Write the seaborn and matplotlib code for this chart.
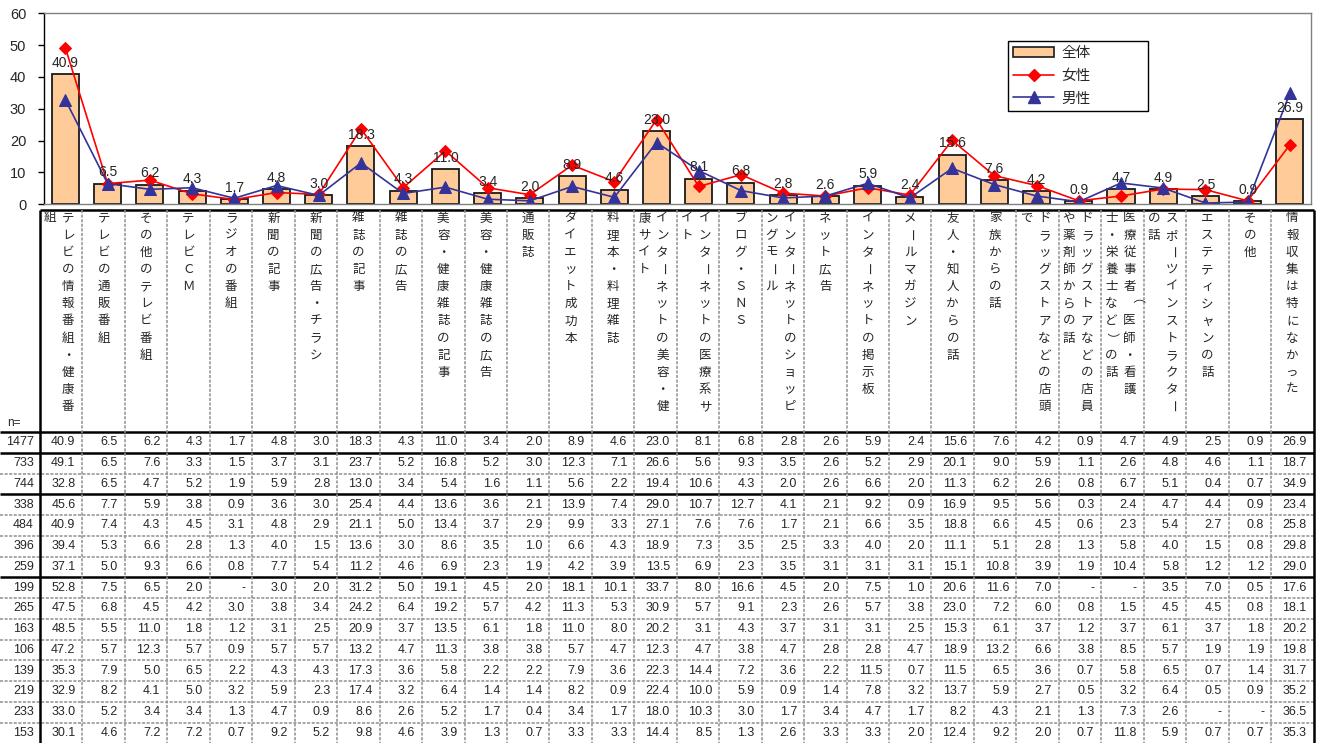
import numpy as np
import matplotlib
matplotlib.use("Agg")
import matplotlib.pyplot as plt
from matplotlib.patches import Patch
from matplotlib.lines import Line2D
import seaborn as sns

# categories (explicit line breaks = column wraps of the vertical label)
labels = [
    "テレビの情報番組・健康番\n組", "テレビの通販番組", "その他のテレビ番組", "テレビＣＭ",
    "ラジオの番組", "新聞の記事", "新聞の広告・チラシ", "雑誌の記事", "雑誌の広告",
    "美容・健康雑誌の記事", "美容・健康雑誌の広告", "通販誌", "ダイエット成功本",
    "料理本・料理雑誌", "インターネットの美容・健\n康サイト", "インターネットの医療系サ\nイト",
    "ブログ・ＳＮＳ", "インターネットのショッピ\nングモール", "ネット広告",
    "インターネットの掲示板", "メールマガジン", "友人・知人からの話", "家族からの話",
    "ドラッグストアなどの店頭\nで", "ドラッグストアなどの店員\nや薬剤師からの話",
    "医療従事者（医師・看護\n士・栄養士など）の話", "スポーツインストラクター\nの話",
    "エステティシャンの話", "その他", "情報収集は特になかった",
]

n_values = [1477, 733, 744, 338, 484, 396, 259, 199, 265, 163, 106, 139, 219, 233, 153]

total = [40.9, 6.5, 6.2, 4.3, 1.7, 4.8, 3.0, 18.3, 4.3, 11.0, 3.4, 2.0, 8.9, 4.6, 23.0,
         8.1, 6.8, 2.8, 2.6, 5.9, 2.4, 15.6, 7.6, 4.2, 0.9, 4.7, 4.9, 2.5, 0.9, 26.9]
female = [49.1, 6.5, 7.6, 3.3, 1.5, 3.7, 3.1, 23.7, 5.2, 16.8, 5.2, 3.0, 12.3, 7.1, 26.6,
          5.6, 9.3, 3.5, 2.6, 5.2, 2.9, 20.1, 9.0, 5.9, 1.1, 2.6, 4.8, 4.6, 1.1, 18.7]
male = [32.8, 6.5, 4.7, 5.2, 1.9, 5.9, 2.8, 13.0, 3.4, 5.4, 1.6, 1.1, 5.6, 2.2, 19.4,
        10.6, 4.3, 2.0, 2.6, 6.6, 2.0, 11.3, 6.2, 2.6, 0.8, 6.7, 5.1, 0.4, 0.7, 34.9]

# remaining table rows (groups, n = 338 ... 153)
g338 = [45.6, 7.7, 5.9, 3.8, 0.9, 3.6, 3.0, 25.4, 4.4, 13.6, 3.6, 2.1, 13.9, 7.4, 29.0,
        10.7, 12.7, 4.1, 2.1, 9.2, 0.9, 16.9, 9.5, 5.6, 0.3, 2.4, 4.7, 4.4, 0.9, 23.4]
g484 = [40.9, 7.4, 4.3, 4.5, 3.1, 4.8, 2.9, 21.1, 5.0, 13.4, 3.7, 2.9, 9.9, 3.3, 27.1,
        7.6, 7.6, 1.7, 2.1, 6.6, 3.5, 18.8, 6.6, 4.5, 0.6, 2.3, 5.4, 2.7, 0.8, 25.8]
g396 = [39.4, 5.3, 6.6, 2.8, 1.3, 4.0, 1.5, 13.6, 3.0, 8.6, 3.5, 1.0, 6.6, 4.3, 18.9,
        7.3, 3.5, 2.5, 3.3, 4.0, 2.0, 11.1, 5.1, 2.8, 1.3, 5.8, 4.0, 1.5, 0.8, 29.8]
g259 = [37.1, 5.0, 9.3, 6.6, 0.8, 7.7, 5.4, 11.2, 4.6, 6.9, 2.3, 1.9, 4.2, 3.9, 13.5,
        6.9, 2.3, 3.5, 3.1, 3.1, 3.1, 15.1, 10.8, 3.9, 1.9, 10.4, 5.8, 1.2, 1.2, 29.0]
g199 = [52.8, 7.5, 6.5, 2.0, None, 3.0, 2.0, 31.2, 5.0, 19.1, 4.5, 2.0, 18.1, 10.1, 33.7,
        8.0, 16.6, 4.5, 2.0, 7.5, 1.0, 20.6, 11.6, 7.0, None, None, 3.5, 7.0, 0.5, 17.6]
g265 = [47.5, 6.8, 4.5, 4.2, 3.0, 3.8, 3.4, 24.2, 6.4, 19.2, 5.7, 4.2, 11.3, 5.3, 30.9,
        5.7, 9.1, 2.3, 2.6, 5.7, 3.8, 23.0, 7.2, 6.0, 0.8, 1.5, 4.5, 4.5, 0.8, 18.1]
g163 = [48.5, 5.5, 11.0, 1.8, 1.2, 3.1, 2.5, 20.9, 3.7, 13.5, 6.1, 1.8, 11.0, 8.0, 20.2,
        3.1, 4.3, 3.7, 3.1, 3.1, 2.5, 15.3, 6.1, 3.7, 1.2, 3.7, 6.1, 3.7, 1.8, 20.2]
g106 = [47.2, 5.7, 12.3, 5.7, 0.9, 5.7, 5.7, 13.2, 4.7, 11.3, 3.8, 3.8, 5.7, 4.7, 12.3,
        4.7, 3.8, 4.7, 2.8, 2.8, 4.7, 18.9, 13.2, 6.6, 3.8, 8.5, 5.7, 1.9, 1.9, 19.8]
g139 = [35.3, 7.9, 5.0, 6.5, 2.2, 4.3, 4.3, 17.3, 3.6, 5.8, 2.2, 2.2, 7.9, 3.6, 22.3,
        14.4, 7.2, 3.6, 2.2, 11.5, 0.7, 11.5, 6.5, 3.6, 0.7, 5.8, 6.5, 0.7, 1.4, 31.7]
g219 = [32.9, 8.2, 4.1, 5.0, 3.2, 5.9, 2.3, 17.4, 3.2, 6.4, 1.4, 1.4, 8.2, 0.9, 22.4,
        10.0, 5.9, 0.9, 1.4, 7.8, 3.2, 13.7, 5.9, 2.7, 0.5, 3.2, 6.4, 0.5, 0.9, 35.2]
g233 = [33.0, 5.2, 3.4, 3.4, 1.3, 4.7, 0.9, 8.6, 2.6, 5.2, 1.7, 0.4, 3.4, 1.7, 18.0,
        10.3, 3.0, 1.7, 3.4, 4.7, 1.7, 8.2, 4.3, 2.1, 1.3, 7.3, 2.6, None, None, 36.5]
g153 = [30.1, 4.6, 7.2, 7.2, 0.7, 9.2, 5.2, 9.8, 4.6, 3.9, 1.3, 0.7, 3.3, 3.3, 14.4,
        8.5, 1.3, 2.6, 3.3, 3.3, 2.0, 12.4, 9.2, 2.0, 0.7, 11.8, 5.9, 0.7, 0.7, 35.3]

table_rows = [total, female, male, g338, g484, g396, g259,
              g199, g265, g163, g106, g139, g219, g233, g153]

sns.set_theme(style="white")
plt.rcParams['font.family'] = ['Liberation Sans', 'Noto Sans CJK JP', 'DejaVu Sans']

W, H = 1320, 743
fig = plt.figure(figsize=(W / 100, H / 100), dpi=100)

# ---------- table (drawn in pixel coordinates) ----------
tab = fig.add_axes([0, 0, 1, 1])
tab.set_xlim(0, W)
tab.set_ylim(H, 0)
tab.axis('off')

x0, colw = 40.0, 42.45
x1 = x0 + colw * len(labels)
head_top, head_bot, row_h = 210.0, 432.0, 20.76
thick = dict(color='black', lw=1.8, solid_capstyle='butt')
thin = dict(color='#8f8f8f', lw=1.1, ls=(0, (2, 1)))

tab.plot([x0, x1], [head_top, head_top], **thick)
tab.plot([0, x1], [head_bot, head_bot], **thick)
for r in range(1, len(table_rows)):
    y = head_bot + r * row_h
    tab.plot([0, x1], [y, y], **(thick if r in (1, 3, 7) else thin))
tab.plot([x0, x0], [head_top, H], **thick)
tab.plot([x1, x1], [head_top, H], **thick)
for k in range(1, len(labels)):
    xx = x0 + k * colw
    tab.plot([xx, xx], [head_top, H], **thin)

# vertical category labels
pitch = 17.15
cjk = ['Noto Sans CJK JP', 'DejaVu Sans']
for i, lab in enumerate(labels):
    xc = x0 + (i + 0.5) * colw
    cols = lab.split('\n')
    offs = [0] if len(cols) == 1 else [7, -11]
    for ci, col in enumerate(cols):
        for k, ch in enumerate(col):
            rot = -90 if ch in 'ー（）' else 0
            tab.text(xc + offs[ci], 218 + k * pitch, ch, ha='center', va='center',
                     rotation=rot, rotation_mode='anchor', fontsize=9, family=cjk)

tab.text(7, 423, 'n=', ha='left', va='center', fontsize=8.5)

for r, row in enumerate(table_rows):
    yc = head_bot + (r + 0.5) * row_h
    tab.text(34, yc, str(n_values[r]), ha='right', va='center', fontsize=9)
    for i, v in enumerate(row):
        txt = '-' if v is None else f'{v:.1f}'
        tab.text(x0 + (i + 1) * colw - 7, yc, txt, ha='right', va='center', fontsize=9)

# ---------- chart ----------
ax = fig.add_axes([44.3 / W, (H - 204.3) / H, (1311 - 44.3) / W, 191 / H])
pos = np.arange(len(labels))
sns.barplot(x=pos, y=total, ax=ax, color='#FFCC99', saturation=1, width=0.64,
            edgecolor='#1a1a1a', linewidth=1.3, errorbar=None)
sns.lineplot(x=pos, y=female, ax=ax, color='#FF0000', marker='D', markersize=6,
             markeredgecolor='#FF0000', linewidth=1.2)
sns.lineplot(x=pos, y=male, ax=ax, color='#333399', marker='^', markersize=8,
             markeredgecolor='#333399', linewidth=1.2)

for i, v in enumerate(total):
    ax.annotate(f'{v:.1f}', (i, v), xytext=(0, 3), textcoords='offset points',
                ha='center', va='bottom', fontsize=10)

ax.set_xlim(-0.5, len(labels) - 0.5)
ax.set_ylim(0, 60)
ax.set_yticks(range(0, 61, 10))
ax.set_xticks([])
ax.set_xlabel('')
ax.set_ylabel('')
ax.tick_params(axis='y', left=True, length=4, width=1, direction='out', pad=9,
               labelsize=10.5, color='black')
for s in ['top', 'right', 'bottom']:
    ax.spines[s].set_color('#808080')
    ax.spines[s].set_linewidth(1)
ax.spines['left'].set_color('black')
ax.spines['left'].set_linewidth(1)

handles = [Patch(facecolor='#FFCC99', edgecolor='#1a1a1a', linewidth=1.2),
           Line2D([], [], color='#FF0000', marker='D', markersize=6, lw=1.2),
           Line2D([], [], color='#333399', marker='^', markersize=8, lw=1.2)]
leg = ax.legend(handles, ['全体', '女性', '男性'], loc='upper left',
                bbox_to_anchor=(0.761, 0.504, 0.11, 0.351), mode='expand',
                frameon=True, fancybox=False,
                edgecolor='black', framealpha=1, handlelength=2.8,
                labelspacing=0.6, borderpad=0.35, handletextpad=0.5,
                borderaxespad=0, prop={'family': cjk, 'size': 10.5})
leg.get_frame().set_linewidth(1)

fig.savefig('out.png', dpi=100)
